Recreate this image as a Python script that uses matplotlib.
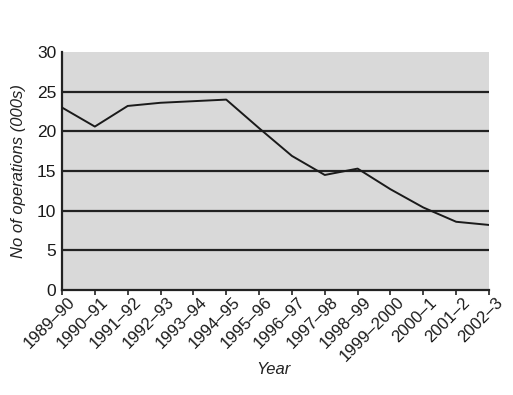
import matplotlib
matplotlib.use("Agg")
import matplotlib.pyplot as plt
import matplotlib.transforms as mtransforms

years = ["1989\u201390", "1990\u201391", "1991\u201392", "1992\u201393", "1993\u201394",
         "1994\u201395", "1995\u201396", "1996\u201397", "1997\u201398", "1998\u201399",
         "1999\u20132000", "2000\u20131", "2001\u20132", "2002\u20133"]
operations = [23.0, 20.6, 23.2, 23.6, 23.8, 24.0, 20.4, 16.9, 14.5, 15.3, 12.7, 10.4, 8.6, 8.2]
yticks = [0, 5, 10, 15, 20, 25, 30]

plt.rcParams['font.family'] = ['Liberation Sans', 'DejaVu Sans']

fig = plt.figure(figsize=(5.13, 3.95), dpi=100)
ax = fig.add_axes([62/513, 1 - 290/395, (489-62)/513, (290-52)/395])
ax.set_facecolor('#d9d9d9')

x = list(range(len(years)))
for yv in yticks[1:-1]:
    ax.axhline(yv, color='#222222', lw=1.6, zorder=1)
ax.plot(x, operations, color='#1a1a1a', lw=1.4, zorder=3)

ax.set_xlim(0, len(years) - 1)
ax.set_ylim(0, 30)
ax.set_yticks(yticks)
ax.set_xticks(x)
ax.set_xticklabels([])
ax.tick_params(axis='y', labelsize=12.5, colors='#1a1a1a', length=0, pad=4)
ax.tick_params(axis='x', length=3.5, width=1.2, colors='#222222')

trans = ax.get_xaxis_transform() + mtransforms.ScaledTranslation(11/100, -10/100, fig.dpi_scale_trans)
for i, lab in zip(x, years):
    ax.text(i, 0, lab, transform=trans, rotation=45, ha='right', va='center',
            rotation_mode='anchor', fontsize=12, color='#1a1a1a', clip_on=False)

for s in ['top', 'right']:
    ax.spines[s].set_visible(False)
for s in ['left', 'bottom']:
    ax.spines[s].set_color('#222222')
    ax.spines[s].set_linewidth(1.6)

ax.set_ylabel('No of operations (000s)', fontstyle='italic', fontsize=12, color='#222222', labelpad=8)
fig.text((62 + 489) / 2 / 513 - 0.005, 1 - 370/395, 'Year', fontstyle='italic', fontsize=12,
         color='#222222', ha='center', va='center')

fig.savefig('out.png', dpi=100)
